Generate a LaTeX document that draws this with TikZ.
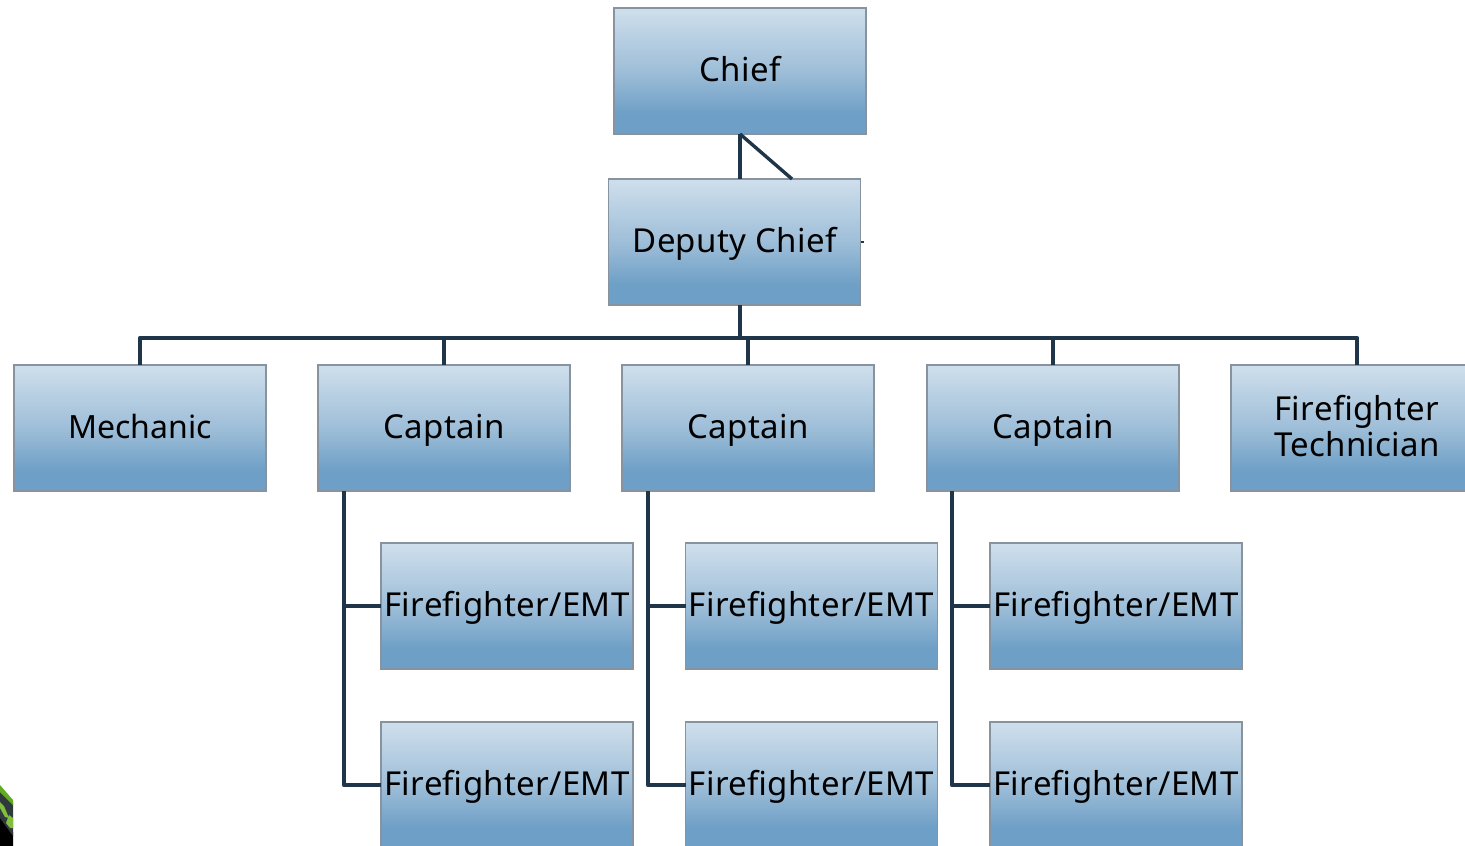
\documentclass[tikz,border=0pt]{standalone}
\usepackage{fontspec}
\setmainfont[LetterSpace=1.0]{Noto Sans}
\newfontfamily\tightfont{Noto Sans}
\definecolor{linec}{RGB}{31,53,73}
\definecolor{edgec}{RGB}{135,148,160}
\definecolor{boxtop}{RGB}{207,223,236}
\definecolor{boxmid}{RGB}{158,190,216}
\definecolor{boxbot}{RGB}{110,159,198}
\definecolor{logogreen}{RGB}{98,172,36}
\definecolor{logolime}{RGB}{130,190,60}
\definecolor{logogrey}{RGB}{48,58,62}
\pgfdeclareverticalshading{boxshade}{100bp}{color(0bp)=(boxbot);color(25bp)=(boxbot);color(33bp)=(boxbot);color(50bp)=(boxmid);color(75bp)=(boxtop);color(100bp)=(boxtop)}
\tikzset{
  x=1pt,y=-1pt,
  orgbox/.style={draw=edgec,line width=1.1pt,shading=boxshade,minimum width=252pt,minimum height=126pt,inner sep=0pt,outer sep=0pt,font=\fontsize{33}{36.5}\selectfont,text=black,anchor=center},
  oneline/.style={text height=29pt,text depth=8pt},
  conn/.style={draw=linec,line width=4.8pt,line join=round},
  thinconn/.style={draw=linec,line width=3.4pt},
}
\begin{document}
\begin{tikzpicture}
\useasboundingbox (0,0) rectangle (1465,846);
\begin{scope}
\clip (0,0) rectangle (1465,846);
% partial logo in the lower-left corner
\fill[black] (0,815) -- (13,832) -- (13,846) -- (0,846) -- cycle;
\fill[logogrey] (0,790) -- (13,802) -- (13,836) -- (0,818) -- cycle;
\fill[logogreen] (0,785) -- (13,800) -- (13,805) -- (0,792) -- cycle;
\fill[logolime] (0,802) -- (4,806) -- (9,818) -- (5,817) -- (0,808) -- cycle;
\fill[logolime] (6,823) -- (9,815) -- (13,818) -- (13,828) -- (10,828) -- cycle;

\node[orgbox,oneline] (chief) at (740,71) {Chief};
\node[orgbox,oneline] (deputy) at (734.5,242) {Deputy Chief};
\node[orgbox,oneline] (mech) at (140,428) {\tightfont\fontsize{32}{36.5}\selectfont Mechanic};
\node[orgbox,oneline] (capa) at (444,428) {Captain};
\node[orgbox,oneline] (capb) at (748,428) {Captain};
\node[orgbox,oneline] (capc) at (1053,428) {Captain};
\node[orgbox,align=center] (tech) at (1357,428) {Firefighter\\Technician\rule[-4pt]{0pt}{0pt}};
\node[orgbox,oneline] (ffa) at (507,606) {Firefighter/EMT};
\node[orgbox,oneline] (ffb) at (507,785) {Firefighter/EMT};
\node[orgbox,oneline] (ffc) at (811.5,606) {Firefighter/EMT};
\node[orgbox,oneline] (ffd) at (811.5,785) {Firefighter/EMT};
\node[orgbox,oneline] (ffe) at (1116,606) {Firefighter/EMT};
\node[orgbox,oneline] (fff) at (1116,785) {Firefighter/EMT};

\coordinate (bus) at (740,338);
\coordinate (spinea) at (344,491);
\coordinate (spineb) at (648,491);
\coordinate (spinec) at (952,491);
\coordinate (diag) at (792,179);
\coordinate (stub) at (864,242);

\draw[conn] (chief.south) -- (chief.south |- deputy.north);
\draw[thinconn] (chief.south) -- (diag);
\draw[conn] (bus |- deputy.south) -- (bus);
\draw[conn] (mech.north) |- (tech.north |- bus) -- (tech.north);
\draw[conn] (bus -| capa) -- (capa.north);
\draw[conn] (bus -| capb) -- (capb.north);
\draw[conn] (bus -| capc) -- (capc.north);
\draw[conn] (spinea) |- (ffb.west);
\draw[conn] (spinea |- ffa.west) -- (ffa.west);
\draw[conn] (spineb) |- (ffd.west);
\draw[conn] (spineb |- ffc.west) -- (ffc.west);
\draw[conn] (spinec) |- (fff.west);
\draw[conn] (spinec |- ffe.west) -- (ffe.west);
\draw[draw=linec,line width=1.5pt] (deputy.east) -- (stub);
\end{scope}
\end{tikzpicture}
\end{document}
